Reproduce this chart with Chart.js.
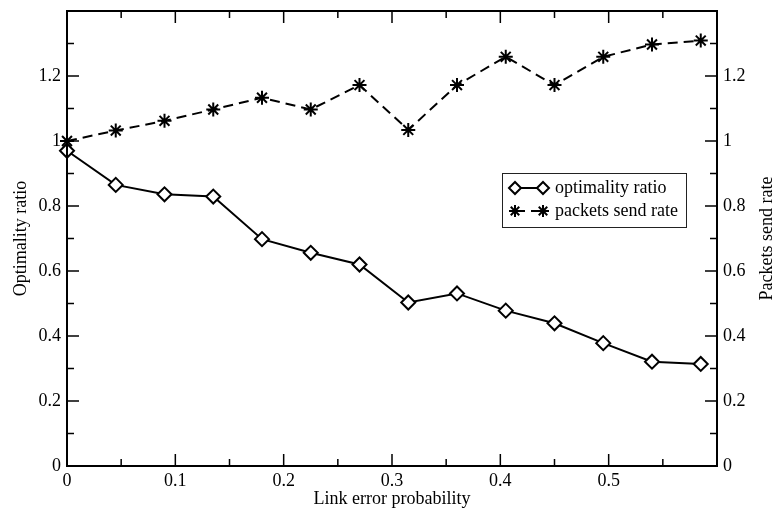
<!DOCTYPE html>
<html>
<head>
<meta charset="utf-8">
<script src="https://cdn.jsdelivr.net/npm/chart.js@4"></script>
<style>
  body { margin: 0; background: #fff; }
  #wrap { width: 776px; height: 508px; }
</style>
</head>
<body>
<div id="wrap"><canvas id="chart" width="776" height="508"></canvas></div>
<script>
// data
const errorProb = [0, 0.045, 0.09, 0.135, 0.18, 0.225, 0.27, 0.315, 0.36, 0.405, 0.45, 0.495, 0.54, 0.585];
const optimalityRatio = [0.97, 0.865, 0.836, 0.829, 0.698, 0.656, 0.62, 0.503, 0.531, 0.478, 0.439, 0.378, 0.321, 0.314];
const sendRate = [1.0, 1.032, 1.062, 1.097, 1.133, 1.097, 1.172, 1.034, 1.172, 1.259, 1.172, 1.259, 1.297, 1.309];
const seriesNames = ['optimality ratio', 'packets send rate'];
const xTitle = 'Link error probability';
const yTitle = 'Optimality ratio';
const y2Title = 'Packets send rate';

const FONT = 'Liberation Serif';
const FSIZE = 18;

function fmt(v) {
    return String(Number(v.toFixed(2)));
}

// fixed axis sizes so the plot area lands where it is in the reference
function fixSize(w, h) {
    return s => {
        if (w !== null) s.width = w;
        if (h !== null) s.height = h;
        s.paddingTop = 0;
        s.paddingBottom = 0;
        s.paddingLeft = 0;
        s.paddingRight = 0;
    };
}

// frame, inward ticks, titles and legend box
const decorPlugin = {
    id: 'decor',
    afterDatasetsDraw(chart) {
        const ctx = chart.ctx;
        const a = chart.chartArea;
        const xs = chart.scales.x;
        const ys = chart.scales.y;
        ctx.save();
        ctx.strokeStyle = '#000';
        ctx.lineWidth = 2;
        ctx.strokeRect(a.left, a.top, a.right - a.left, a.bottom - a.top);

        ctx.lineWidth = 1.5;
        ctx.beginPath();
        for (let i = 1; i < 12; i++) {
            const px = xs.getPixelForValue(i * 0.05);
            const len = i % 2 === 0 ? 12 : 7;
            ctx.moveTo(px, a.bottom); ctx.lineTo(px, a.bottom - len);
            ctx.moveTo(px, a.top); ctx.lineTo(px, a.top + len);
        }
        for (let i = 1; i < 14; i++) {
            const py = ys.getPixelForValue(i * 0.1);
            const len = i % 2 === 0 ? 12 : 7;
            ctx.moveTo(a.left, py); ctx.lineTo(a.left + len, py);
            ctx.moveTo(a.right, py); ctx.lineTo(a.right - len, py);
        }
        ctx.stroke();

        // axis titles
        ctx.fillStyle = '#000';
        ctx.font = FSIZE + 'px "' + FONT + '"';
        ctx.textAlign = 'center';
        ctx.textBaseline = 'middle';
        ctx.fillText(xTitle, (a.left + a.right) / 2, 499);
        const midY = (a.top + a.bottom) / 2;
        ctx.save();
        ctx.translate(21, midY);
        ctx.rotate(-Math.PI / 2);
        ctx.fillText(yTitle, 0, 0);
        ctx.restore();
        ctx.save();
        ctx.translate(767, midY);
        ctx.rotate(-Math.PI / 2);
        ctx.fillText(y2Title, 0, 0);
        ctx.restore();

        // legend
        ctx.fillStyle = '#fff';
        ctx.fillRect(502, 173, 184, 54);
        ctx.strokeStyle = '#222';
        ctx.lineWidth = 1;
        ctx.strokeRect(502.5, 173.5, 184, 54);
        const rows = [188, 211];
        chart.data.datasets.forEach((ds, i) => {
            const y = rows[i];
            ctx.strokeStyle = '#000';
            ctx.lineWidth = 2;
            ctx.setLineDash(ds.borderDash || []);
            ctx.beginPath();
            ctx.moveTo(515, y); ctx.lineTo(543, y);
            ctx.stroke();
            ctx.setLineDash([]);
            [515, 543].forEach(px => {
                Chart.helpers.drawPoint(ctx, {
                    pointStyle: ds.pointStyle, radius: 6, rotation: 0, borderWidth: 2
                }, px, y);
            });
            ctx.fillStyle = '#000';
            ctx.textAlign = 'left';
            ctx.fillText(ds.label, 555, y);
        });
        ctx.restore();
    }
};

const ctx = document.getElementById('chart').getContext('2d');
new Chart(ctx, {
    type: 'line',
    data: {
        datasets: [
            {
                label: seriesNames[0],
                data: errorProb.map((x, i) => ({ x: x, y: optimalityRatio[i] })),
                yAxisID: 'y',
                borderColor: '#000',
                borderWidth: 2,
                backgroundColor: '#fff',
                pointStyle: 'rectRot',
                pointRadius: 7,
                pointBorderWidth: 2,
                pointBackgroundColor: '#fff',
                pointBorderColor: '#000',
                clip: false
            },
            {
                label: seriesNames[1],
                data: errorProb.map((x, i) => ({ x: x, y: sendRate[i] })),
                yAxisID: 'y2',
                borderColor: '#000',
                borderWidth: 2,
                borderDash: [10, 6],
                pointStyle: 'star',
                pointRadius: 7,
                pointBorderWidth: 2,
                pointBorderColor: '#000',
                clip: false
            }
        ]
    },
    options: {
        responsive: false,
        animation: false,
        layout: { padding: { top: 11, left: 0, right: 0, bottom: 0 } },
        plugins: {
            legend: { display: false },
            tooltip: { enabled: false }
        },
        scales: {
            x: {
                type: 'linear',
                min: 0,
                max: 0.6,
                afterFit: fixSize(null, 42),
                grid: { display: false, drawTicks: false },
                border: { display: false },
                ticks: {
                    stepSize: 0.1,
                    padding: 4,
                    color: '#000',
                    font: { family: FONT, size: FSIZE },
                    maxRotation: 0,
                    callback: v => (v >= 0.59 ? '' : fmt(v))
                }
            },
            y: {
                position: 'left',
                min: 0,
                max: 1.4,
                afterFit: fixSize(67, null),
                grid: { display: false, drawTicks: false },
                border: { display: false },
                ticks: {
                    stepSize: 0.2,
                    padding: 6,
                    color: '#000',
                    font: { family: FONT, size: FSIZE },
                    callback: v => (v >= 1.39 ? '' : fmt(v))
                }
            },
            y2: {
                position: 'right',
                min: 0,
                max: 1.4,
                afterFit: fixSize(59, null),
                grid: { display: false, drawTicks: false },
                border: { display: false },
                ticks: {
                    stepSize: 0.2,
                    padding: 6,
                    color: '#000',
                    font: { family: FONT, size: FSIZE },
                    callback: v => (v >= 1.39 ? '' : fmt(v))
                }
            }
        }
    },
    plugins: [decorPlugin]
});
</script>
</body>
</html>
